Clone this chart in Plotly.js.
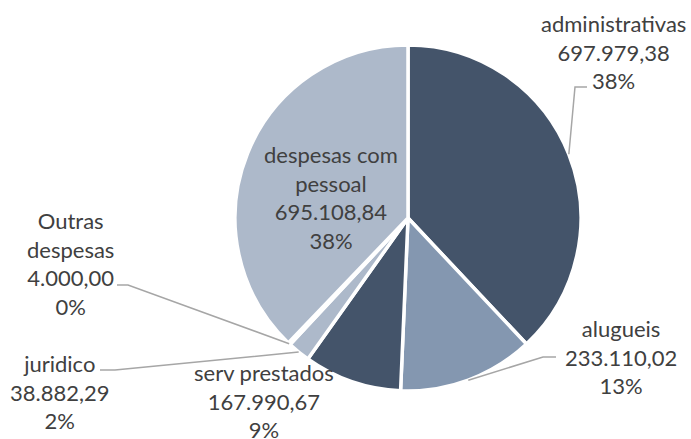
<!DOCTYPE html>
<html>
<head>
<meta charset="utf-8">
<script src="https://cdn.plot.ly/plotly-3.0.1.min.js"></script>
<style>html,body{margin:0;padding:0;background:#fff}#chart{width:691px;height:439px}</style>
</head>
<body>
<div id="chart"></div>
<script>
const categories = ["administrativas", "alugueis", "serv prestados", "juridico", "Outras despesas", "despesas com pessoal"];
const values = [697979.38, 233110.02, 167990.67, 38882.29, 4000.00, 695108.84];
const colors = ["#44546A", "#8497B0", "#44546A", "#ADB9CA", "#ADB9CA", "#ADB9CA"];
// label text lines for each category (display wrapping)
const labelLines = [["administrativas"], ["alugueis"], ["serv prestados"], ["juridico"], ["Outras", "despesas"], ["despesas com", "pessoal"]];

const W = 691, H = 439;
const cx = 408, cy = 218, R = 173;
// label placement (pixel centers of first line), and leader elbow/end points
const labelPos = [
  {x: 613, y: 22, line: [[575, 87], [587, 87]]},
  {x: 621, y: 327, line: [[543, 357], [556, 357]]},
  {x: 264, y: 371, line: null},
  {x: 60, y: 362, line: [[115, 370], [100, 370]]},
  {x: 70, y: 219, line: [[128, 285], [117, 285]]},
  {x: 331, y: 153, line: null}
];

const total = values.reduce((a, b) => a + b, 0);
function fmt(v) {
  const parts = v.toFixed(2).split(".");
  const intp = parts[0].replace(/\B(?=(\d{3})+(?!\d))/g, ".");
  return intp + "," + parts[1];
}
const px = x => x / W, py = y => 1 - y / H;

const annotations = [], shapes = [];
let cum = 0;
values.forEach((v, i) => {
  const frac = v / total;
  const mid = (cum + frac / 2) * 2 * Math.PI;
  cum += frac;
  const lines = labelLines[i].concat([fmt(v), Math.round(frac * 100) + "%"]);
  const lp = labelPos[i];
  annotations.push({
    x: px(lp.x), y: py(lp.y - 14), xref: "paper", yref: "paper",
    xanchor: "center", yanchor: "top", showarrow: false, align: "center",
    text: lines.join("<br>"),
    font: {family: "Lato, 'Open Sans', sans-serif", size: 22, color: "#404040"}
  });
  if (lp.line) {
    const sx = cx + R * Math.sin(mid), sy = cy - R * Math.cos(mid);
    const pts = [[sx, sy]].concat(lp.line);
    let path = "M" + pts.map(p => px(p[0]) + "," + py(p[1])).join(" L");
    shapes.push({type: "path", xref: "paper", yref: "paper", path: path,
      line: {color: "#A6A6A6", width: 1.5}});
  }
});

const data = [{
  type: "pie",
  labels: categories,
  values: values,
  sort: false,
  direction: "clockwise",
  rotation: 0,
  textinfo: "none",
  hoverinfo: "label+value+percent",
  marker: {colors: colors, line: {color: "#ffffff", width: 3.5}},
  domain: {x: [(cx - R) / W, (cx + R) / W], y: [1 - (cy + R) / H, 1 - (cy - R) / H]},
  showlegend: false
}];

const layout = {
  width: W, height: H,
  margin: {l: 0, r: 0, t: 0, b: 0},
  paper_bgcolor: "#ffffff",
  showlegend: false,
  annotations: annotations,
  shapes: shapes
};
Plotly.newPlot("chart", data, layout, {displayModeBar: false, staticPlot: true});
</script>
</body>
</html>
